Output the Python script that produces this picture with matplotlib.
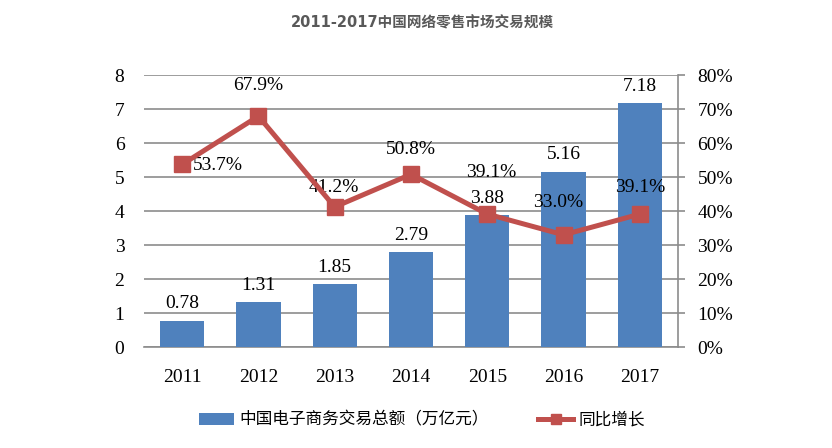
import matplotlib.pyplot as plt
import numpy as np

plt.rcParams['font.family'] = ['Liberation Serif', 'Noto Sans CJK SC']

years = ['2011', '2012', '2013', '2014', '2015', '2016', '2017']
volume = [0.78, 1.31, 1.85, 2.79, 3.88, 5.16, 7.18]        # 万亿元
growth = [53.7, 67.9, 41.2, 50.8, 39.1, 33.0, 39.1]        # %
growth_offsets = [(26, -1), (0, 22), (-1, 14), (0, 18), (3, 30), (-4, 23), (0, 19)]

bar_color = '#4F81BD'
line_color = '#C0504D'
grid_color = '#8C8C8C'


def main():
    fig = plt.figure(figsize=(8.32, 4.48), dpi=100)
    ax = fig.add_axes([0.173, 0.2254, 0.642, 0.6071])
    x = np.arange(len(years))

    ax.bar(x, volume, width=0.58, color=bar_color, zorder=3,
           label='中国电子商务交易总额（万亿元）')
    for xi, v in zip(x, volume):
        ax.annotate(f'{v:.2f}', (xi, v), xytext=(0, 6), textcoords='offset points',
                    ha='center', va='bottom', fontsize=14)

    ax.set_xlim(-0.5, len(years) - 0.5)
    ax.set_ylim(0, 8)
    ax.set_yticks(range(0, 9))
    ax.yaxis.grid(True, color=grid_color, linewidth=1.2, zorder=0)
    ax.set_axisbelow(True)
    ax.set_xticks(x)
    ax.set_xticklabels(years)
    ax.tick_params(axis='x', length=0, pad=16, labelsize=14)
    ax.tick_params(axis='y', length=0, pad=14, labelsize=14)
    for s in ['left', 'top', 'right']:
        ax.spines[s].set_visible(False)
    ax.spines['bottom'].set_color(grid_color)
    ax.spines['bottom'].set_linewidth(1.2)

    ax2 = ax.twinx()
    ax2.plot(x, growth, color=line_color, linewidth=3.6, marker='s', markersize=11,
             zorder=5, label='同比增长')
    for xi, g, off in zip(x, growth, growth_offsets):
        ax2.annotate(f'{g:.1f}%', (xi, g), xytext=off, textcoords='offset points',
                     ha='center', va='center', fontsize=14)
    ax2.set_ylim(0, 80)
    ax2.set_yticks(range(0, 81, 10))
    ax2.set_yticklabels([f'{t}%' for t in range(0, 81, 10)])
    ax2.tick_params(axis='y', length=5, color=grid_color, width=1.2, pad=9, labelsize=14)
    for s in ['left', 'top', 'bottom']:
        ax2.spines[s].set_visible(False)
    ax2.spines['right'].set_color(grid_color)
    ax2.spines['right'].set_linewidth(1.2)

    fig.text(0.508, 0.948, '2011-2017中国网络零售市场交易规模', ha='center', va='center',
             fontsize=10.5, fontweight='bold', color='#595959',
             family=['DejaVu Sans', 'Noto Sans CJK SC'])

    h1, l1 = ax.get_legend_handles_labels()
    h2, l2 = ax2.get_legend_handles_labels()
    fig.legend(h1 + h2, l1 + l2, loc='center', bbox_to_anchor=(0.507, 0.062), ncol=2,
               frameon=False, columnspacing=3.0, handlelength=2.1, handletextpad=0.3,
               markerscale=0.7, prop={'family': ['Noto Sans CJK SC'], 'size': 12})

    fig.savefig('out.png', dpi=100, facecolor='white')


if __name__ == '__main__':
    main()
